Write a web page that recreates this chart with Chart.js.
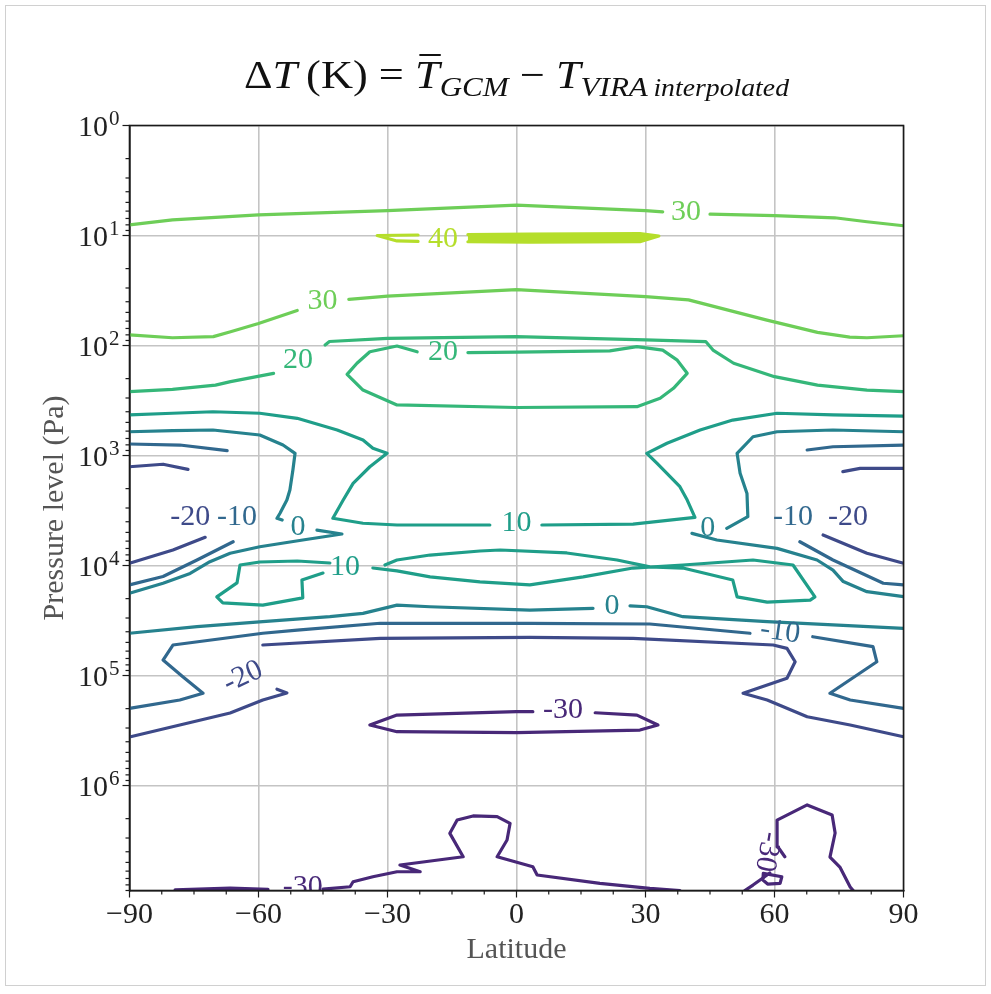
<!DOCTYPE html>
<html>
<head>
<meta charset="utf-8">
<script src="https://cdn.jsdelivr.net/npm/chart.js@4.4.0/dist/chart.umd.min.js"></script>
<style>
  html, body { margin: 0; padding: 0; background: #fff; }
  canvas { display: block; }
</style>
</head>
<body>
<canvas id="dt-chart" width="991" height="994"></canvas>
<script>
// Temperature difference contours, GCM mean minus VIRA profile
// Every contour piece is a list of [latitude (deg), pressure (Pa)]

const LEVEL_COLORS = {
    '-30': '#482878', '-20': '#3e4a89', '-10': '#31688e', '0': '#26828e',
    '10': '#1f9e89', '20': '#35b779', '30': '#6ece58', '40': '#b5de2b'
};

const latMajorTicks = [-90, -60, -30, 0, 30, 60, 90];
const latMinorStep = 7.5;
const pressureDecades = [1, 10, 100, 1e3, 1e4, 1e5, 1e6];
const pressureMinorSteps = [2, 3, 4, 5, 6, 7, 8, 9];
const PRESSURE_MAX = 9e6;

// +40 K
const c40a = [[-22.9, 9.9], [-32.4, 10.0], [-27.8, 11.2], [-22.9, 11.3]];
const c40b = [[-11.3, 9.8], [3, 9.7], [28.7, 9.6], [33.1, 10.1], [28.7, 11.4], [3, 11.5], [-11.3, 11.4]];

// +30 K
const c30a = [[-90, 8.0], [-80, 7.2], [-60, 6.5], [-30, 5.95], [0, 5.3], [30, 5.95], [34, 6.1]];
const c30b = [[45, 6.4], [60, 6.6], [74, 6.9], [81.5, 7.5], [90, 8.15]];
const c30c = [[-90, 80], [-80, 85], [-70.5, 83], [-66.5, 75], [-60, 63], [-51, 48]];
const c30d = [[-39, 38], [-30, 35.5], [0, 31], [30, 36], [40, 38.5], [58, 58.5], [70, 76], [77.5, 84], [81.5, 85], [90, 81.5]];

// +20 K
const c20a = [[-90, 263], [-80, 250], [-70, 229], [-66.5, 213], [-56.5, 179]];
const c20b = [[-44.5, 99], [-43.5, 92], [-30, 86], [0, 83], [30, 89], [44, 92], [45.7, 110], [50.5, 145],
    [60, 192], [70, 229], [81.5, 254], [90, 263]];
const c20c = [[-11.3, 116], [0, 115], [21.7, 112], [28, 102.5], [34, 110], [37.3, 135], [39.7, 179], [36.5, 245],
    [33.4, 302], [28, 360], [0, 366], [-27.8, 347], [-35.7, 254], [-39.4, 183], [-37.1, 145], [-34.1, 114],
    [-27.8, 101], [-23.1, 114]];

// +10 K
const c10a = [[-90, 428], [-80, 413], [-70.6, 400], [-59.7, 413], [-51, 459], [-41.7, 586], [-35.7, 723],
    [-33.4, 860], [-30.1, 955], [-34.1, 1265], [-38, 1790], [-40.3, 2540], [-42.7, 3720], [-35.7, 4130],
    [-27.8, 4280], [-6.2, 4280]];
const c10b = [[5.9, 4280], [27.1, 4200], [41.5, 3650], [39.7, 2540], [38, 1920], [32.7, 1180], [30.3, 955],
    [35, 774], [42.7, 586], [50.3, 476], [60.6, 413], [73.6, 428], [90, 438]];
const c10c = [[-45, 11700], [-49.9, 13550], [-49.7, 19700], [-59, 22900], [-68.3, 21900], [-69.7, 19300],
    [-65, 14400], [-64.3, 9890], [-59.7, 9290], [-51, 9100], [-43.4, 9490]];
const c10d = [[-33.4, 10540], [-27.8, 11200], [-20.1, 12700], [-8.5, 14100], [3.1, 15000], [15.5, 12700],
    [27.1, 10540], [38.7, 9890], [55, 8910], [64.3, 9890], [69.4, 19300], [68.3, 20600], [58.3, 21500],
    [51.3, 19300], [50.3, 13550], [38.7, 10540], [31, 10300], [23.4, 8910], [11.7, 7690], [-3.8, 7230],
    [-8.5, 7380], [-20.1, 8030], [-27.8, 8910], [-30.6, 9890]];

// 0 K
const c0a = [[-90, 608], [-80, 595], [-70.6, 586], [-59.7, 651], [-54.3, 803], [-51.5, 955], [-52, 1355],
    [-52.7, 2060], [-53.4, 2540], [-55, 3350], [-55.7, 3720], [-54.5, 3860]];
const c0b = [[-46.4, 4760], [-40.6, 5170], [-49.7, 5860], [-59.7, 6750], [-66.6, 7740], [-71.3, 9230],
    [-75.9, 11800], [-82.2, 14500], [-90, 17900]];
const c0c = [[90, 608], [73.6, 586], [60.6, 608], [55, 675], [51.3, 955], [52, 1450], [53.6, 2210],
    [53.8, 3600], [48.9, 4590]];
const c0d = [[40.8, 5100], [46.6, 5860], [60.6, 6980], [69.9, 8910], [73.6, 11000], [76, 14000],
    [81.5, 17300], [90, 19200]];
const c0e = [[-90, 41300], [-74.3, 36000], [-59, 32400], [-43.4, 29200], [-35.7, 27200], [-27.8, 22900],
    [-20.1, 23700], [3.1, 25400], [17.8, 24500]];
const c0f = [[26.4, 23300], [30.3, 23700], [38.7, 29200], [58.3, 32400], [73.6, 34700], [90, 37200]];

// -10 K
const cm10a = [[-90, 786], [-78.3, 803], [-67.3, 904]];
const cm10b = [[-65.9, 6080], [-74.3, 8910], [-82.2, 12600], [-90, 15000]];
const cm10c = [[67.6, 891], [73.6, 832], [90, 803]];
const cm10d = [[65.9, 6080], [73.6, 8910], [85.3, 14500], [90, 15000]];
const cm10e = [[-90, 199000], [-78.3, 167000], [-72.9, 145000], [-77.6, 102500], [-82.2, 72300],
    [-79.9, 52800], [-59, 41300], [-51, 38600], [-31.7, 33500], [3.1, 33500], [31, 34000], [54.3, 41300]];
const cm10f = [[68.9, 44400], [82.9, 54700], [83.8, 75000], [72.9, 145000], [77.6, 167000], [90, 199000]];

// -20 K
const cm20a = [[-90, 1265], [-82.2, 1200], [-76.4, 1335]];
const cm20b = [[-72.4, 5540], [-79.9, 7230], [-90, 9550]];
const cm20c = [[75.9, 1400], [79.9, 1310], [90, 1310]];
const cm20d = [[71.3, 5280], [81.5, 7740], [90, 9550]];
const cm20e = [[-59, 52800], [-31.7, 45900], [3.1, 45000], [27.1, 45900], [59.7, 52800], [62.9, 56600],
    [64.8, 75000], [62.9, 106000], [52.7, 145000], [58.3, 167000], [67.6, 237000], [77.6, 282000], [90, 360000]];
const cm20f = [[-55.7, 133000], [-53.4, 144000], [-59, 167000], [-66.6, 219000], [-78.3, 282000], [-90, 362000]];

// -30 K
const cm30a = [[3.8, 213000], [0, 213000], [-27.8, 229000], [-34.1, 282000], [-27.8, 324000], [0, 330000],
    [28.7, 313000], [32.9, 282000], [28, 229000], [18.3, 218000]];
const cm30b = [[-79.4, 8.9e6], [-66.6, 8.55e6], [-57.8, 8.8e6]];
const cm30c = [[-45, 8.73e6], [-38.7, 8.32e6], [-38, 7.5e6], [-33.4, 6.75e6], [-27.8, 6.08e6], [-22.4, 6.08e6],
    [-27.1, 5.28e6], [-12.4, 4.44e6], [-15.5, 2.72e6], [-13.8, 2.06e6], [-10.1, 1.89e6], [-4.5, 1.92e6],
    [-1.5, 2.21e6], [-2.2, 3.13e6], [-4.5, 4.44e6], [3.8, 5.47e6], [4.8, 6.51e6], [19.4, 7.74e6],
    [31, 8.6e6], [38, 9e6]];
const cm30d = [[53.1, 9e6], [55, 8.03e6], [57.3, 6.93e6], [58.9, 6.24e6]];
const cm30e = [[62.4, 4.44e6], [60.8, 3.62e6], [60.6, 2.06e6], [67.6, 1.5e6], [73.4, 1.85e6], [74.1, 2.7e6],
    [72.9, 4.47e6], [75.2, 5.51e6], [77.6, 8.37e6], [78.3, 9e6]];
const cm30f = [[57.4, 6.28e6], [61.7, 6.75e6], [61.3, 7.74e6], [58.4, 7.86e6], [57.3, 7.23e6], [57.4, 6.28e6]];

// [level, path, filled band]
const contourPieces = [
    [40, c40a], [40, c40b, true],
    [30, c30a], [30, c30b], [30, c30c], [30, c30d],
    [20, c20a], [20, c20b], [20, c20c],
    [10, c10a], [10, c10b], [10, c10c], [10, c10d],
    [0, c0a], [0, c0b], [0, c0c], [0, c0d], [0, c0e], [0, c0f],
    [-10, cm10a], [-10, cm10b], [-10, cm10c], [-10, cm10d], [-10, cm10e], [-10, cm10f],
    [-20, cm20a], [-20, cm20b], [-20, cm20c], [-20, cm20d], [-20, cm20e], [-20, cm20f],
    [-30, cm30a], [-30, cm30b], [-30, cm30c], [-30, cm30d], [-30, cm30e], [-30, cm30f]
];

// inline contour labels: [level, latitude, pressure]
const contourLabels = [
    [40, -17.1, 10.8], [30, 39.4, 6.1], [30, -45.1, 39.4],
    [20, -50.8, 135], [20, -17.1, 114],
    [10, 0, 4110], [10, -39.9, 10300],
    [0, -50.8, 4470], [0, 44.5, 4560], [0, 22.2, 23600],
    [-10, -65, 3620], [-10, 64.3, 3620], [-10, 61.3, 40200],
    [-20, -75.9, 3620], [-20, 77.1, 3620], [-20, -63.6, 103000],
    [-30, 10.8, 206000], [-30, -49.7, 8.4e6], [-30, 58.3, 4.0e6]
];
// label tilt in degrees, by label index
const labelTilt = { 12: 8, 15: -25, 18: 100 };

const SERIF = '"Liberation Serif", "DejaVu Serif", serif';
const TITLE_WIDTH = 545;

function isDecade(v) {
    const e = Math.log10(v);
    return Math.abs(e - Math.round(e)) < 1e-6;
}

function formatLat(v) {
    return v < 0 ? '\u2212' + Math.abs(v) : String(v);
}

// light outer frame and white page
const pageFrame = {
    id: 'pageFrame',
    beforeDraw(chart) {
        const { ctx, width, height } = chart;
        ctx.save();
        ctx.fillStyle = '#ffffff';
        ctx.fillRect(0, 0, width, height);
        ctx.strokeStyle = '#d0d0d0';
        ctx.lineWidth = 1;
        ctx.strokeRect(5.5, 5.5, width - 11, height - 14);
        ctx.restore();
    }
};

// contour labels, axes box, tick marks and 10^n labels
const contourDecor = {
    id: 'contourDecor',
    afterDatasetsDraw(chart) {
        const { ctx, chartArea: a, scales: { x, y } } = chart;
        ctx.save();
        ctx.beginPath();
        ctx.rect(a.left, a.top, a.right - a.left, a.bottom - a.top);
        ctx.clip();
        ctx.font = '30px ' + SERIF;
        ctx.textAlign = 'center';
        ctx.textBaseline = 'middle';
        contourLabels.forEach(([level, lat, p], i) => {
            ctx.save();
            ctx.translate(x.getPixelForValue(lat), y.getPixelForValue(p));
            if (labelTilt[i]) ctx.rotate(labelTilt[i] * Math.PI / 180);
            ctx.fillStyle = LEVEL_COLORS[level];
            ctx.fillText(level < 0 ? '-' + Math.abs(level) : String(level), 0, 0);
            ctx.restore();
        });
        ctx.restore();

        ctx.save();
        ctx.strokeStyle = '#1a1a1a';
        ctx.lineWidth = 1.6;
        ctx.strokeRect(a.left, a.top, a.right - a.left, a.bottom - a.top);
        ctx.lineWidth = 1.2;
        x.ticks.forEach(t => {
            const px = x.getPixelForValue(t.value);
            const len = latMajorTicks.includes(t.value) ? 7 : 4;
            ctx.beginPath();
            ctx.moveTo(px, a.bottom);
            ctx.lineTo(px, a.bottom + len);
            ctx.stroke();
        });
        y.ticks.forEach(t => {
            const py = y.getPixelForValue(t.value);
            const len = isDecade(t.value) ? 7 : 4;
            ctx.beginPath();
            ctx.moveTo(a.left, py);
            ctx.lineTo(a.left - len, py);
            ctx.stroke();
        });

        // decade labels written as 10 with a raised exponent
        ctx.fillStyle = '#222';
        ctx.textBaseline = 'alphabetic';
        ctx.textAlign = 'left';
        pressureDecades.forEach(d => {
            const py = y.getPixelForValue(d);
            const exp = String(Math.round(Math.log10(d)));
            ctx.font = '30px ' + SERIF;
            const wBase = ctx.measureText('10').width;
            ctx.font = '21px ' + SERIF;
            const wExp = ctx.measureText(exp).width;
            const x0 = a.left - 10 - wBase - wExp - 1;
            ctx.font = '30px ' + SERIF;
            ctx.fillText('10', x0, py + 10);
            ctx.font = '21px ' + SERIF;
            ctx.fillText(exp, x0 + wBase + 1, py - 1);
        });
        ctx.restore();
    }
};

// math-style title with subscripts
const mathTitle = {
    id: 'mathTitle',
    afterDraw(chart) {
        const { ctx, chartArea: a } = chart;
        const big = 40, sub = 28, small = 25;
        const parts = [
            { t: '\u0394', f: `${big}px ${SERIF}` },
            { t: 'T', f: `italic ${big}px ${SERIF}` },
            { t: '\u2009(K) = ', f: `${big}px ${SERIF}` },
            { t: 'T', f: `italic ${big}px ${SERIF}`, bar: true },
            { t: 'GCM', f: `italic ${sub}px ${SERIF}`, dy: 8 },
            { t: ' \u2212 ', f: `${big}px ${SERIF}` },
            { t: 'T', f: `italic ${big}px ${SERIF}` },
            { t: 'VIRA', f: `italic ${sub}px ${SERIF}`, dy: 8 },
            { t: '\u2009interpolated', f: `italic ${small}px ${SERIF}`, dy: 8 }
        ];
        ctx.save();
        ctx.fillStyle = '#111';
        ctx.textBaseline = 'alphabetic';
        ctx.textAlign = 'left';
        let total = 0;
        parts.forEach(p => { ctx.font = p.f; p.w = ctx.measureText(p.t).width; total += p.w; });
        const sx = TITLE_WIDTH / total;
        const base = 88;
        ctx.translate((a.left + a.right) / 2 - TITLE_WIDTH / 2, 0);
        ctx.scale(sx, 1);
        let cx = 0;
        parts.forEach(p => {
            ctx.font = p.f;
            ctx.fillText(p.t, cx, base + (p.dy || 0));
            if (p.bar) {
                ctx.fillRect(cx + 4, base - 34, p.w - 3, 2);
            }
            cx += p.w;
        });
        ctx.restore();
    }
};

const datasets = contourPieces.map(([level, pts, band]) => ({
    data: pts.map(([lat, p]) => ({ x: lat, y: p })),
    showLine: true,
    borderColor: LEVEL_COLORS[level],
    backgroundColor: LEVEL_COLORS[level],
    borderWidth: 3.2,
    pointRadius: 0,
    fill: band ? 'shape' : false,
    tension: 0,
    borderJoinStyle: 'round',
    borderCapStyle: 'round'
}));

new Chart(document.getElementById('dt-chart'), {
    type: 'scatter',
    data: { datasets },
    plugins: [pageFrame, contourDecor, mathTitle],
    options: {
        responsive: false,
        animation: false,
        events: [],
        devicePixelRatio: 1,
        layout: { padding: { top: 125.5, right: 87.5, bottom: 0, left: 0 } },
        plugins: {
            legend: { display: false },
            tooltip: { enabled: false },
            title: { display: false },
            filler: { propagate: false }
        },
        scales: {
            x: {
                type: 'linear',
                min: -90,
                max: 90,
                afterBuildTicks(scale) {
                    const ticks = [];
                    for (let v = -90; v <= 90; v += latMinorStep) ticks.push({ value: v });
                    scale.ticks = ticks;
                },
                afterFit(scale) { scale.height = 103.5; },
                grid: {
                    drawTicks: false,
                    lineWidth: 1.6,
                    color: ctx => (ctx.tick && latMajorTicks.includes(ctx.tick.value)) ? '#c4c4c4' : 'rgba(0,0,0,0)'
                },
                border: { display: true, color: '#1a1a1a', width: 1.6 },
                ticks: {
                    autoSkip: false,
                    maxRotation: 0,
                    padding: 7,
                    color: '#222',
                    font: { family: SERIF, size: 30 },
                    callback: v => latMajorTicks.includes(v) ? formatLat(v) : ''
                },
                title: {
                    display: true,
                    text: 'Latitude',
                    color: '#555',
                    font: { family: SERIF, size: 30 },
                    padding: { top: 0, bottom: 26 }
                }
            },
            y: {
                type: 'logarithmic',
                reverse: true,
                min: 1,
                max: PRESSURE_MAX,
                afterBuildTicks(scale) {
                    const ticks = [];
                    pressureDecades.forEach(d => {
                        ticks.push({ value: d });
                        pressureMinorSteps.forEach(k => {
                            if (k * d <= PRESSURE_MAX) ticks.push({ value: k * d });
                        });
                    });
                    scale.ticks = ticks;
                },
                afterFit(scale) { scale.width = 129.5; },
                grid: {
                    drawTicks: false,
                    lineWidth: 1.6,
                    color: ctx => (ctx.tick && isDecade(ctx.tick.value)) ? '#c4c4c4' : 'rgba(0,0,0,0)'
                },
                border: { display: true, color: '#1a1a1a', width: 1.6 },
                ticks: {
                    autoSkip: false,
                    padding: 9,
                    font: { family: SERIF, size: 30 },
                    // decade labels are drawn with a raised exponent by the contourDecor plugin
                    callback: () => ''
                },
                title: {
                    display: true,
                    text: 'Pressure level (Pa)',
                    color: '#555',
                    font: { family: SERIF, size: 30 },
                    padding: { top: 37, bottom: 0 }
                }
            }
        }
    }
});
</script>
</body>
</html>
